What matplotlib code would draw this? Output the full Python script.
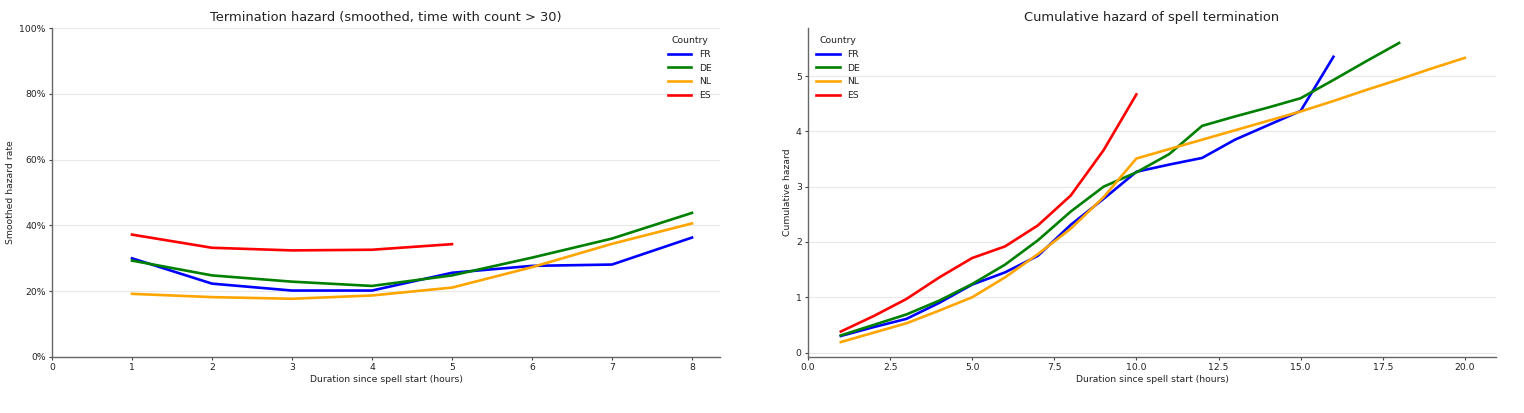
import matplotlib
matplotlib.use("Agg")
import matplotlib.pyplot as plt
from matplotlib.ticker import PercentFormatter

countries = ["FR", "DE", "NL", "ES"]
colors = {"FR": "blue", "DE": "green", "NL": "orange", "ES": "red"}

# Left: smoothed hazard rate
haz_x = {
    "FR": [1, 2, 3, 4, 5, 6, 7, 8],
    "DE": [1, 2, 3, 4, 5, 6, 7, 8],
    "NL": [1, 2, 3, 4, 5, 6, 7, 8],
    "ES": [1, 2, 3, 4, 5],
}
haz_y = {
    "FR": [0.300, 0.223, 0.202, 0.202, 0.256, 0.277, 0.281, 0.363],
    "DE": [0.293, 0.248, 0.229, 0.216, 0.248, 0.302, 0.360, 0.438],
    "NL": [0.192, 0.182, 0.177, 0.187, 0.211, 0.273, 0.344, 0.406],
    "ES": [0.372, 0.332, 0.324, 0.326, 0.343],
}

# Right: cumulative hazard
cum_x = {
    "FR": [1, 2, 3, 4, 5, 6, 7, 8, 9, 10, 11, 12, 13, 14, 15, 16],
    "DE": [1, 2, 3, 4, 5, 6, 7, 8, 9, 10, 11, 12, 13, 14, 15, 16, 17, 18],
    "NL": [1, 2, 3, 4, 5, 6, 7, 8, 9, 10, 11, 12, 13, 14, 15, 16, 17, 18, 19, 20],
    "ES": [1, 2, 3, 4, 5, 6, 7, 8, 9, 10],
}
cum_y = {
    "FR": [0.30, 0.46, 0.61, 0.90, 1.23, 1.45, 1.75, 2.31, 2.78, 3.27, 3.40, 3.52, 3.85, 4.11, 4.37, 5.35],
    "DE": [0.31, 0.50, 0.69, 0.94, 1.24, 1.59, 2.03, 2.55, 3.00, 3.26, 3.59, 4.10, 4.27, 4.43, 4.60, 4.93, 5.27, 5.60],
    "NL": [0.19, 0.36, 0.53, 0.76, 1.00, 1.36, 1.78, 2.24, 2.81, 3.51, 3.68, 3.85, 4.02, 4.19, 4.36, 4.55, 4.75, 4.94, 5.14, 5.33],
    "ES": [0.38, 0.66, 0.97, 1.36, 1.71, 1.92, 2.30, 2.84, 3.66, 4.67],
}

plt.rcParams.update({
    "font.size": 6.7,
    "axes.titlesize": 9.4,
    "text.color": "#222222",
    "axes.labelcolor": "#222222",
    "xtick.color": "#444444",
    "ytick.color": "#444444",
    "xtick.labelcolor": "#222222",
    "ytick.labelcolor": "#222222",
    "xtick.major.size": 2.5,
    "ytick.major.size": 2.5,
})

fig = plt.figure(figsize=(15.24, 4.13), dpi=100)
ax1 = fig.add_axes([52/1524, 1 - 357/413, (720-52)/1524, (357-28)/413])
ax2 = fig.add_axes([808/1524, 1 - 357/413, (1496-808)/1524, (357-28)/413])

for c in countries:
    ax1.plot(haz_x[c], haz_y[c], color=colors[c], lw=1.9, label=c)
    ax2.plot(cum_x[c], cum_y[c], color=colors[c], lw=1.9, label=c)

ax1.set_ylim(0, 1)
ax1.set_xlim(left=0)
ax1.yaxis.set_major_formatter(PercentFormatter(1.0, decimals=0))
ax1.set_title("Termination hazard (smoothed, time with count > 30)", pad=5)
ax1.set_xlabel("Duration since spell start (hours)", labelpad=2)
ax1.set_ylabel("Smoothed hazard rate", labelpad=3)
ax1.legend(title="Country", loc="upper right", frameon=False, handlelength=2.5,
           title_fontsize=6.7)

ax2.set_xlim(left=0)
ax2.set_title("Cumulative hazard of spell termination", pad=5)
ax2.set_xlabel("Duration since spell start (hours)", labelpad=2)
ax2.set_ylabel("Cumulative hazard", labelpad=3)
ax2.legend(title="Country", loc="upper left", frameon=False, handlelength=2.5,
           title_fontsize=6.7)

for ax in (ax1, ax2):
    ax.grid(axis="y", color="#e8e8e8", lw=0.8)
    ax.set_axisbelow(True)
    ax.spines["top"].set_visible(False)
    ax.spines["right"].set_visible(False)
    for s in ("left", "bottom"):
        ax.spines[s].set_color("#666666")
        ax.spines[s].set_linewidth(1.0)
    ax.tick_params(width=0.8, pad=2)

fig.savefig("out.png", dpi=100)
